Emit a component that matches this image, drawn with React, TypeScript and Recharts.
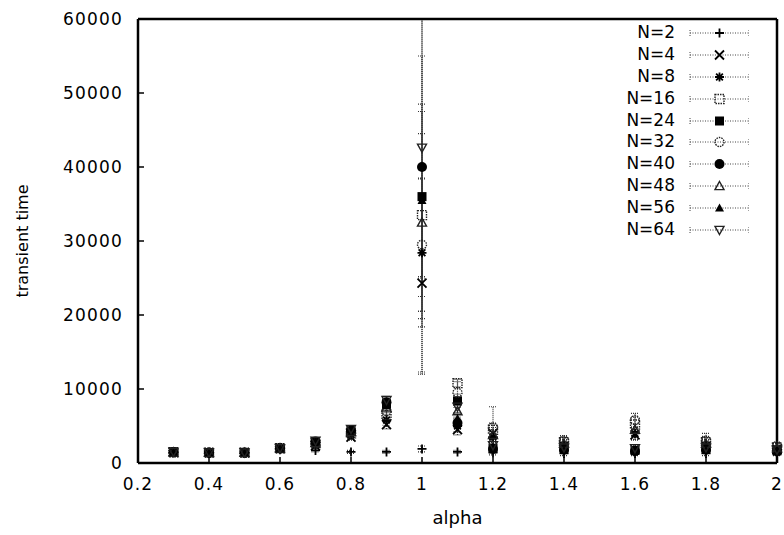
import React from 'react';
import { ScatterChart, Scatter, XAxis, YAxis, ErrorBar, Legend } from 'recharts';

const ALPHA = [0.3, 0.4, 0.5, 0.6, 0.7, 0.8, 0.9, 1.0, 1.1, 1.2, 1.4, 1.6, 1.8, 2.0];
const X_TICKS = [0.2, 0.4, 0.6, 0.8, 1, 1.2, 1.4, 1.6, 1.8, 2];
const Y_TICKS = [0, 10000, 20000, 30000, 40000, 50000, 60000];

const N2 = [1400, 1350, 1350, 1800, 1700, 1500, 1500, 1900, 1500, 1400, 1300, 1300, 1300, 1300];
const N4 = [1450, 1400, 1400, 1950, 2300, 3500, 5200, 24300, 4500, 4000, 2200, 3800, 2200, 1800];
const N8 = [1450, 1400, 1400, 1950, 2500, 3800, 5800, 28400, 5000, 3500, 2400, 4000, 2400, 1900];
const N16 = [1450, 1400, 1400, 2000, 2700, 4000, 6500, 33500, 10800, 4500, 2800, 5200, 2800, 2100];
const N24 = [1500, 1400, 1400, 2000, 2800, 4300, 8000, 36000, 8400, 2000, 2000, 1700, 2000, 1700];
const N32 = [1450, 1400, 1400, 2000, 2600, 4100, 7000, 29500, 9500, 4800, 3000, 5800, 3000, 2300];
const N40 = [1500, 1400, 1400, 2000, 2900, 4400, 8200, 40000, 5400, 1900, 1800, 1600, 1800, 1600];
const N48 = [1450, 1400, 1400, 2000, 2700, 4200, 7500, 32500, 7000, 3800, 2600, 4500, 2600, 2000];
const N56 = [1500, 1400, 1400, 2000, 2900, 4500, 7800, 35500, 6000, 2200, 1700, 1900, 1700, 1500];
const N64 = [1500, 1400, 1400, 2000, 3000, 4600, 8500, 42600, 7600, 2400, 2100, 2000, 2100, 1800];

const E2 = [100, 100, 100, 150, 200, 200, 200, 400, 200, 300, 300, 300, 300, 300];
const E4 = [100, 100, 100, 150, 300, 400, 600, 12000, 700, 800, 500, 700, 500, 400];
const E8 = [100, 100, 100, 150, 300, 400, 700, 10000, 800, 700, 600, 800, 600, 400];
const E16 = [100, 100, 100, 150, 300, 500, 800, 14000, 500, 900, 700, 1000, 800, 500];
const E24 = [100, 100, 100, 150, 300, 400, 500, 24000, 900, 500, 500, 400, 500, 400];
const E32 = [100, 100, 100, 150, 300, 500, 900, 9000, 1500, 2800, 700, 900, 1000, 400];
const E40 = [100, 100, 100, 150, 300, 400, 500, 15000, 600, 500, 400, 400, 400, 400];
const E48 = [100, 100, 100, 150, 300, 400, 700, 12000, 800, 700, 600, 800, 600, 400];
const E56 = [100, 100, 100, 150, 300, 400, 500, 13000, 700, 500, 400, 400, 400, 400];
const E64 = [100, 100, 100, 150, 300, 400, 500, 17400, 800, 500, 400, 400, 400, 400];

const SERIES = [
  { name: 'N=2', kind: 'plus', values: N2, errs: E2 },
  { name: 'N=4', kind: 'cross', values: N4, errs: E4 },
  { name: 'N=8', kind: 'star', values: N8, errs: E8 },
  { name: 'N=16', kind: 'boxOpen', values: N16, errs: E16 },
  { name: 'N=24', kind: 'box', values: N24, errs: E24 },
  { name: 'N=32', kind: 'circleOpen', values: N32, errs: E32 },
  { name: 'N=40', kind: 'circle', values: N40, errs: E40 },
  { name: 'N=48', kind: 'triOpen', values: N48, errs: E48 },
  { name: 'N=56', kind: 'tri', values: N56, errs: E56 },
  { name: 'N=64', kind: 'triDownOpen', values: N64, errs: E64 },
];

const FONT = '"DejaVu Sans", sans-serif';
const INK = '#000';
const TICK_LEN = 6;

function Marker({ kind, cx, cy }: { kind: string; cx: number; cy: number }) {
  const s = 4.5;
  const sw = 1.8;
  switch (kind) {
    case 'plus':
      return <path d={`M${cx - s},${cy}H${cx + s}M${cx},${cy - s}V${cy + s}`} stroke={INK} strokeWidth={sw} fill="none" />;
    case 'cross':
      return <path d={`M${cx - s},${cy - s}L${cx + s},${cy + s}M${cx - s},${cy + s}L${cx + s},${cy - s}`} stroke={INK} strokeWidth={sw} fill="none" />;
    case 'star':
      return <path d={`M${cx - s},${cy}H${cx + s}M${cx},${cy - s}V${cy + s}M${cx - s * 0.75},${cy - s * 0.75}L${cx + s * 0.75},${cy + s * 0.75}M${cx - s * 0.75},${cy + s * 0.75}L${cx + s * 0.75},${cy - s * 0.75}`} stroke={INK} strokeWidth={sw} fill="none" />;
    case 'boxOpen':
      return <rect x={cx - s} y={cy - s} width={2 * s} height={2 * s} stroke="#222" strokeWidth={1.4} strokeDasharray="1.5 1" fill="none" />;
    case 'box':
      return <rect x={cx - s} y={cy - s} width={2 * s} height={2 * s} fill={INK} />;
    case 'circleOpen':
      return <circle cx={cx} cy={cy} r={s} stroke="#222" strokeWidth={1.4} strokeDasharray="1.5 1" fill="none" />;
    case 'circle':
      return <circle cx={cx} cy={cy} r={s + 0.5} fill={INK} />;
    case 'triOpen':
      return <path d={`M${cx},${cy - s}L${cx + s},${cy + s * 0.8}L${cx - s},${cy + s * 0.8}Z`} stroke="#222" strokeWidth={1.4} fill="none" />;
    case 'tri':
      return <path d={`M${cx},${cy - s}L${cx + s},${cy + s * 0.8}L${cx - s},${cy + s * 0.8}Z`} fill={INK} />;
    default:
      return <path d={`M${cx},${cy + s}L${cx + s},${cy - s * 0.8}L${cx - s},${cy - s * 0.8}Z`} stroke="#222" strokeWidth={1.4} fill="none" />;
  }
}

function LegendBox() {
  return (
    <div style={{ fontFamily: FONT, fontSize: 17, color: INK }}>
      {SERIES.map((s) => (
        <div key={s.name} style={{ display: 'flex', alignItems: 'center', height: 21.9 }}>
          <div style={{ width: 75, textAlign: 'right', lineHeight: '21.9px' }}>{s.name}</div>
          <svg width={74} height={22} style={{ display: 'block' }}>
            <path d="M15,11H74M15,8V14M74,8V14" stroke="#444" strokeWidth={1} strokeDasharray="1 1.5" fill="none" />
            <Marker kind={s.kind} cx={44.5} cy={11} />
          </svg>
        </div>
      ))}
    </div>
  );
}

const labelStyle = { fontFamily: FONT, fontSize: 17, fill: INK, letterSpacing: 1.2 };
const axisLine = { stroke: INK, strokeWidth: 2.5 };

const BOTTOM_MARGIN = 21;
const LEFT_MARGIN = 15;

function BottomTick(p: any) {
  const axisY = p.y - BOTTOM_MARGIN;
  return (
    <g>
      <line x1={p.x} x2={p.x} y1={axisY} y2={axisY - TICK_LEN} stroke={INK} strokeWidth={1.5} />
      <text x={p.x} y={axisY + 27} textAnchor="middle" {...labelStyle}>
        {String(p.payload.value)}
      </text>
    </g>
  );
}

function LeftTick(p: any) {
  const axisX = p.x + LEFT_MARGIN;
  return (
    <g>
      <line x1={axisX} x2={axisX + TICK_LEN} y1={p.y} y2={p.y} stroke={INK} strokeWidth={1.5} />
      <text x={p.x} y={p.y} dy="0.36em" textAnchor="end" {...labelStyle}>
        {String(p.payload.value)}
      </text>
    </g>
  );
}

function TopTick(p: any) {
  return <line x1={p.x} x2={p.x} y1={p.y} y2={p.y + TICK_LEN} stroke={INK} strokeWidth={1.5} />;
}

function RightTick(p: any) {
  return <line x1={p.x} x2={p.x - TICK_LEN} y1={p.y} y2={p.y} stroke={INK} strokeWidth={1.5} />;
}

export default function App() {
  return (
    <div style={{ position: 'absolute', left: 0, top: 0, background: '#fff' }}>
      <ScatterChart width={784} height={535} margin={{ top: 18, right: 6, bottom: 0, left: 0 }}>
        <XAxis
          type="number"
          dataKey="x"
          domain={[0.2, 2]}
          ticks={X_TICKS}
          tick={<BottomTick />}
          tickSize={0}
          tickMargin={BOTTOM_MARGIN}
          tickLine={false}
          axisLine={axisLine}
          height={72}
          label={{
            content: ({ viewBox }: any) => (
              <text x={viewBox.x + viewBox.width / 2} y={viewBox.y + 61} textAnchor="middle" fontFamily={FONT} fontSize={18} fill={INK}>
                alpha
              </text>
            ),
          }}
        />
        <XAxis
          xAxisId="top"
          orientation="top"
          type="number"
          domain={[0.2, 2]}
          ticks={X_TICKS}
          tick={<TopTick />}
          tickSize={0}
          tickMargin={0}
          tickLine={false}
          axisLine={axisLine}
          height={1}
        />
        <YAxis
          type="number"
          dataKey="y"
          domain={[0, 60000]}
          ticks={Y_TICKS}
          tick={<LeftTick />}
          tickSize={0}
          tickMargin={LEFT_MARGIN}
          tickLine={false}
          axisLine={axisLine}
          width={138}
          label={{
            content: ({ viewBox }: any) => {
              const cx = 22;
              const cy = viewBox.y + viewBox.height / 2;
              return (
                <text x={cx} y={cy} transform={`rotate(-90, ${cx}, ${cy})`} textAnchor="middle" dominantBaseline="central" fontFamily={FONT} fontSize={16} fill={INK}>
                  transient time
                </text>
              );
            },
          }}
        />
        <YAxis
          yAxisId="right"
          orientation="right"
          type="number"
          domain={[0, 60000]}
          ticks={Y_TICKS}
          tick={<RightTick />}
          tickSize={0}
          tickMargin={0}
          tickLine={false}
          axisLine={axisLine}
          width={1}
        />
        {SERIES.map((s) => (
          <Scatter
            key={s.name}
            name={s.name}
            data={ALPHA.map((a, i) => ({ x: a, y: s.values[i], err: s.errs[i] }))}
            isAnimationActive={false}
            shape={(p: any) => <Marker kind={s.kind} cx={p.cx} cy={p.cy} />}
          >
            <ErrorBar dataKey="err" direction="y" width={4} stroke="#333" strokeWidth={1.2} strokeDasharray="1 1" isAnimationActive={false} />
          </Scatter>
        ))}
        <Legend
          layout="horizontal"
          verticalAlign="middle"
          align="center"
          content={() => <LegendBox />}
          wrapperStyle={{ position: 'absolute', left: 600, top: 22, width: 160, right: 'auto', bottom: 'auto' }}
        />
      </ScatterChart>
    </div>
  );
}
